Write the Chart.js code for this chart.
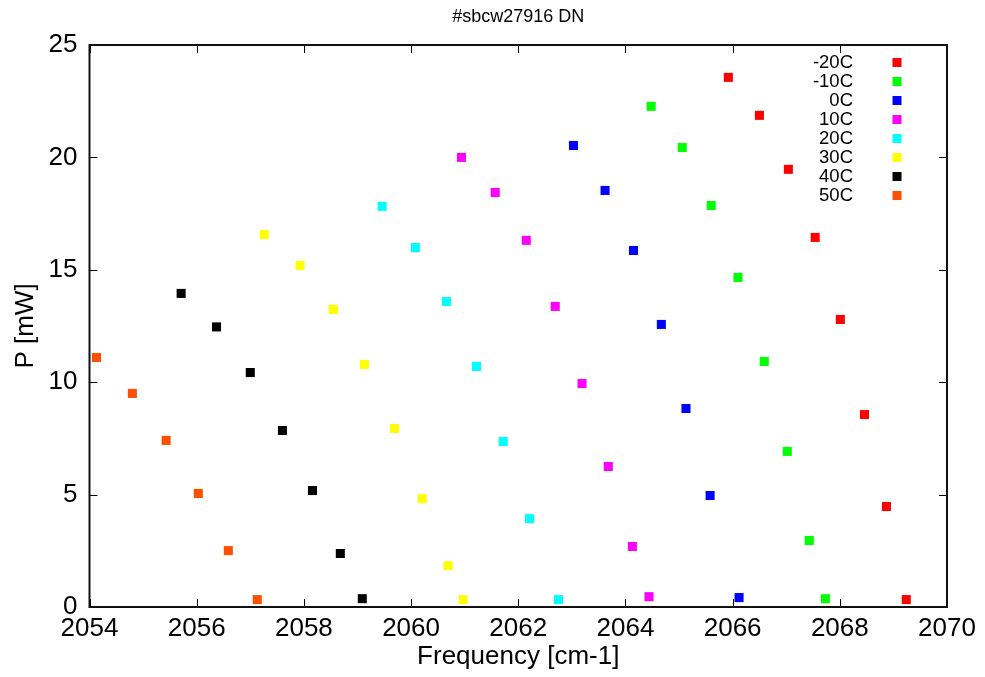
<!DOCTYPE html>
<html><head><meta charset="utf-8">
<script src="https://cdn.jsdelivr.net/npm/chart.js@4/dist/chart.umd.min.js"></script>
<style>html,body{margin:0;padding:0;background:#fff;}canvas{display:block;}</style>
</head><body>
<canvas id="c" width="985" height="677"></canvas>
<script>
const chartTitle = '#sbcw27916 DN';
const xTitle = 'Frequency [cm-1]';
const yTitle = 'P [mW]';
const seriesLabels = ['-20C', '-10C', '0C', '10C', '20C', '30C', '40C', '50C'];
const seriesColors = ['#ff0000', '#00ff00', '#0000ff', '#ff00ff', '#00ffff', '#ffff00', '#000000', '#ff5000'];

const freqM20 = [2065.92, 2066.50, 2067.04, 2067.54, 2068.01, 2068.46, 2068.87, 2069.24];
const powM20  = [23.56, 21.87, 19.47, 16.44, 12.79, 8.56, 4.47, 0.33];
const freqM10 = [2064.48, 2065.06, 2065.60, 2066.10, 2066.59, 2067.02, 2067.43, 2067.73];
const powM10  = [22.27, 20.44, 17.86, 14.66, 10.92, 6.92, 2.96, 0.37];
const freq0   = [2063.03, 2063.62, 2064.15, 2064.67, 2065.13, 2065.58, 2066.12];
const pow0    = [20.53, 18.53, 15.86, 12.57, 8.83, 4.96, 0.42];
const freq10  = [2060.94, 2061.57, 2062.15, 2062.69, 2063.19, 2063.68, 2064.13, 2064.44];
const pow10   = [20.00, 18.44, 16.31, 13.37, 9.94, 6.25, 2.69, 0.46];
const freq20  = [2059.46, 2060.08, 2060.66, 2061.22, 2061.72, 2062.21, 2062.75];
const pow20   = [17.82, 15.99, 13.59, 10.70, 7.36, 3.93, 0.33];
const freq30  = [2057.26, 2057.93, 2058.55, 2059.13, 2059.69, 2060.21, 2060.69, 2060.97];
const pow30   = [16.57, 15.19, 13.24, 10.79, 7.94, 4.82, 1.84, 0.33];
const freq40  = [2055.71, 2056.37, 2057.00, 2057.60, 2058.16, 2058.68, 2059.09];
const pow40   = [13.95, 12.46, 10.43, 7.85, 5.18, 2.38, 0.37];
const freq50  = [2054.13, 2054.80, 2055.43, 2056.03, 2056.59, 2057.13];
const pow50   = [11.10, 9.50, 7.41, 5.05, 2.51, 0.33];

const xTicks = [2054, 2056, 2058, 2060, 2062, 2064, 2066, 2068, 2070];
const yTicks = [0, 5, 10, 15, 20, 25];

const seriesX = [freqM20, freqM10, freq0, freq10, freq20, freq30, freq40, freq50];
const seriesY = [powM20, powM10, pow0, pow10, pow20, pow30, pow40, pow50];

const FONT = '"Liberation Sans", Arial, Helvetica, sans-serif';

const datasets = seriesLabels.map((lab, i) => ({
  label: lab,
  data: seriesX[i].map((xv, j) => ({x: xv, y: seriesY[i][j]})),
  backgroundColor: seriesColors[i],
  borderColor: seriesColors[i],
  borderWidth: 0,
  pointStyle: 'rect',
  pointRadius: 6.4,
  pointHoverRadius: 6.4,
  clip: false
}));

const framePlugin = {
  id: 'frame',
  afterDatasetsDraw(chart) {
    const {ctx, chartArea: a, scales: {x, y}} = chart;
    ctx.save();
    ctx.strokeStyle = '#000';
    ctx.lineWidth = 1;
    const tl = 8;
    xTicks.forEach(v => {
      const px = Math.round(x.getPixelForValue(v)) + 0.5;
      ctx.beginPath();
      ctx.moveTo(px, a.bottom); ctx.lineTo(px, a.bottom - tl);
      ctx.moveTo(px, a.top); ctx.lineTo(px, a.top + tl);
      ctx.stroke();
    });
    yTicks.forEach(v => {
      const py = Math.round(y.getPixelForValue(v)) + 0.5;
      ctx.beginPath();
      ctx.moveTo(a.left, py); ctx.lineTo(a.left + tl, py);
      ctx.moveTo(a.right, py); ctx.lineTo(a.right - tl, py);
      ctx.stroke();
    });
    ctx.lineWidth = 2;
    ctx.strokeStyle = '#111';
    ctx.strokeRect(a.left, a.top, a.right - a.left, a.bottom - a.top);

    ctx.fillStyle = '#000';
    ctx.font = '18px ' + FONT;
    ctx.textAlign = 'center';
    ctx.textBaseline = 'middle';
    ctx.fillText(chartTitle, (a.left + a.right) / 2, 17);

    ctx.font = '18.5px ' + FONT;
    ctx.textAlign = 'right';
    chart.data.datasets.forEach((ds, i) => {
      const yy = a.top + 17.5 + i * 19;
      ctx.fillStyle = '#000';
      ctx.fillText(ds.label, a.right - 94, yy + 0.5);
      ctx.fillStyle = ds.backgroundColor;
      ctx.fillRect(a.right - 54.5, yy - 4.5, 9, 9);
    });
    ctx.restore();
  }
};

new Chart(document.getElementById('c'), {
  type: 'scatter',
  data: {datasets},
  options: {
    responsive: false,
    devicePixelRatio: 1,
    animation: false,
    events: [],
    layout: {padding: {top: 45, right: 38, left: 0, bottom: 0}},
    plugins: {legend: {display: false}, tooltip: {enabled: false}, title: {display: false}},
    scales: {
      x: {
        type: 'linear', min: 2054, max: 2070,
        afterBuildTicks: s => { s.ticks = xTicks.map(v => ({value: v})); },
        afterFit: s => { s.height = 70; },
        grid: {display: false, drawTicks: false},
        border: {display: false},
        ticks: {color: '#000', font: {family: FONT, size: 26}, padding: 6, maxRotation: 0, autoSkip: false,
                callback: v => String(v)},
        title: {display: true, text: xTitle, color: '#000', font: {family: FONT, size: 26}, padding: {top: 0, bottom: 5}}
      },
      y: {
        type: 'linear', min: 0, max: 25,
        afterBuildTicks: s => { s.ticks = yTicks.map(v => ({value: v})); },
        afterFit: s => { s.width = 89.5; },
        grid: {display: false, drawTicks: false},
        border: {display: false},
        ticks: {color: '#000', font: {family: FONT, size: 26}, padding: 12, autoSkip: false,
                callback: v => String(v)},
        title: {display: true, text: yTitle, color: '#000', font: {family: FONT, size: 26}, padding: {top: 10, bottom: 0}}
      }
    }
  },
  plugins: [framePlugin]
});
</script>
</body></html>
